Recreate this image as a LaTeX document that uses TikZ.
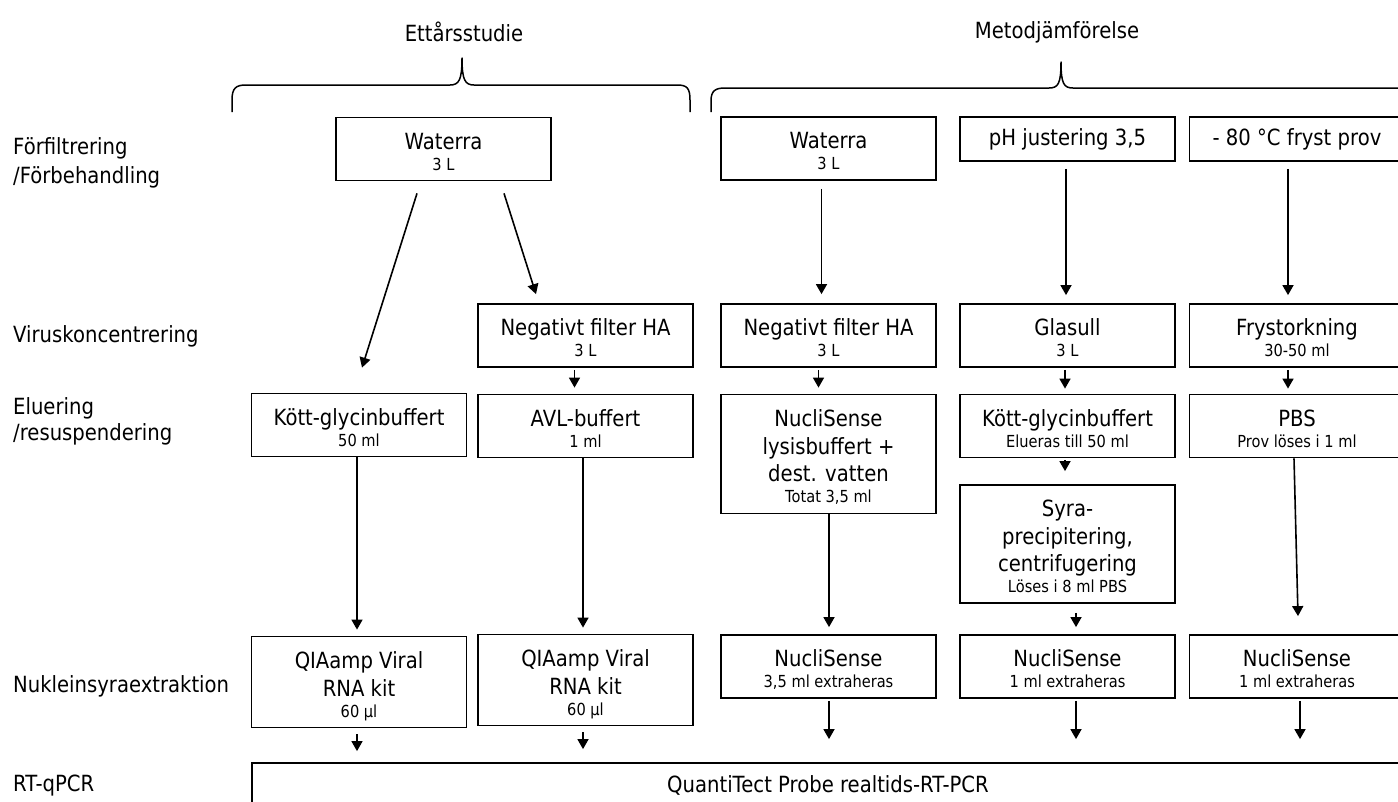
\documentclass[tikz,border=0pt]{standalone}
\usepackage{fontspec}
\setmainfont{DejaVu Sans}[FakeStretch=0.88]
\usetikzlibrary{arrows.meta,calc}
\newcommand\mainsz{\fontsize{22.3}{27.5}\selectfont}
\newcommand\smallsz{\fontsize{16.6}{20}\selectfont}
\newcommand\hs{\rule{0pt}{26.5pt}}
\newcommand\ds{\rule[-5pt]{0pt}{5pt}}
\begin{document}
\begin{tikzpicture}[x=1pt,y=-1pt,
  box/.style={draw, line width=1.8pt, minimum width=215pt, inner sep=0pt, align=center, font=\mainsz},
  arr/.style={-{Triangle[length=10pt,width=11pt]}, line width=1.6pt},
  lab/.style={anchor=west, align=left, font=\mainsz, inner sep=0pt},
  brace/.style={line width=1.5pt, line join=round}]
\useasboundingbox (0,0) rectangle (1398,801);
\clip (0,0) rectangle (1398,801);

% headers
\node[font=\mainsz] (h1) at (464,32) {Ettårsstudie};
\node[font=\mainsz] (h2) at (1057,32) {Metodjämförelse};

% braces
\draw[brace] (232,112) -- (232,100) .. controls (232,88) and (236,85) .. (246,85) -- (450,85)
  .. controls (459,85) and (462,80) .. (462,58) .. controls (462,80) and (465,85) .. (474,85)
  -- (677,85) .. controls (687,85) and (690,88) .. (690,100) -- (690,112);
\draw[brace] (711,112) -- (711,101) .. controls (711,91) and (715,88) .. (725,88) -- (1049,88)
  .. controls (1058,88) and (1061,84) .. (1061,62) .. controls (1061,84) and (1064,88) .. (1073,88)
  -- (1420,88);

% left labels
\node[lab] (l1) at (13,163) {Förfiltrering\\[1.5pt]/Förbehandling};
\node[lab] (l2) at (13,336) {Viruskoncentrering};
\node[lab] (l3) at (13,421.5) {Eluering\\[-1.5pt]/resuspendering};
\node[lab] (l4) at (13,686) {Nukleinsyraextraktion};
\node[lab] (l5) at (13,786) {RT-qPCR};

% row 1
\node[box, minimum height=63pt] (W1) at (443.5,149) {\hs Waterra\\[-6.5pt]{\smallsz 3 L}\ds};
\node[box, minimum height=63pt] (W2) at (828.5,148.5) {\hs Waterra\\[-6.5pt]{\smallsz 3 L}\ds};
\node[box, minimum height=44pt] (PH) at (1067.5,139) {pH justering 3,5};
\node[box, minimum height=44pt] (F80) at (1297,139) {- 80 °C fryst prov};

% row 2
\node[box, minimum height=63pt] (N2) at (585.5,335.5) {\hs Negativt filter HA\\[-6.5pt]{\smallsz 3 L}\ds};
\node[box, minimum height=63pt] (N3) at (828.5,335.5) {\hs Negativt filter HA\\[-6.5pt]{\smallsz 3 L}\ds};
\node[box, minimum height=63pt] (G) at (1067.5,335.5) {\hs Glasull\\[-6.5pt]{\smallsz 3 L}\ds};
\node[box, minimum height=63pt] (FR) at (1297,335.5) {\hs Frystorkning\\[-6.5pt]{\smallsz 30-50 ml}\ds};

% row 3
\node[box, minimum height=63pt] (K1) at (359,425) {\hs Kött-glycinbuffert\\[-6.5pt]{\smallsz 50 ml}\ds};
\node[box, minimum height=63pt] (AVL) at (585.5,426) {\hs AVL-buffert\\[-6.5pt]{\smallsz 1 ml}\ds};
\node[box, minimum height=119pt] (L3) at (828.5,454) {\hs NucliSense\\lysisbuffert +\\dest. vatten\\[-6.5pt]{\smallsz Totat 3,5 ml}\ds};
\node[box, minimum height=63pt] (K4) at (1067.5,426) {\hs Kött-glycinbuffert\\[-6.5pt]{\smallsz Elueras till 50 ml}\ds};
\node[box, minimum height=63pt] (PBS) at (1297,426) {\hs PBS\\[-6.5pt]{\smallsz Prov löses i 1 ml}\ds};
\node[box, minimum height=118pt] (S4) at (1067.5,544) {\hs Syra-\\precipitering,\\centrifugering\\[-6.5pt]{\smallsz Löses i 8 ml PBS}\ds};

% row 4
\node[box, minimum height=91pt] (Q1) at (359,682) {\hs QIAamp Viral\\RNA kit\\[-6.5pt]{\smallsz 60 µl}\ds};
\node[box, minimum height=91pt] (Q2) at (585.5,680) {\hs QIAamp Viral\\RNA kit\\[-6.5pt]{\smallsz 60 µl}\ds};
\node[box, minimum height=63pt] (U3) at (828.5,666.5) {\hs NucliSense\\[-6.5pt]{\smallsz 3,5 ml extraheras}\ds};
\node[box, minimum height=63pt] (U4) at (1067.5,666.5) {\hs NucliSense\\[-6.5pt]{\smallsz 1 ml extraheras}\ds};
\node[box, minimum height=63pt] (U5) at (1297,666.5) {\hs NucliSense\\[-6.5pt]{\smallsz 1 ml extraheras}\ds};

% bottom
\node[box, minimum width=1152pt, minimum height=44pt] (pcr) at (828,785) {QuantiTect Probe realtids-RT-PCR};

% arrows
\draw[arr] ($(W1.south)+(-26.5,12)$) -- ($(K1.north)+(3,-25)$);
\draw[arr] ($(W1.south)+(60.5,12)$) -- ($(N2.north)+(-49.5,-9)$);
\draw[arr] ($(W2.south)+(-7,8)$) -- ($(N3.north)+(-7,-9)$);
\draw[arr] ($(PH.south)+(-1.5,7)$) -- ($(G.north)+(-1.5,-8)$);
\draw[arr] ($(F80.south)+(-9,7)$) -- ($(FR.north)+(-9,-8)$);
\draw[arr] ($(N2.south)+(-11,2)$) -- ($(AVL.north)+(-11,-6)$);
\draw[arr] ($(N3.south)+(-10,2)$) -- ($(L3.north)+(-10,-6)$);
\draw[arr] ($(G.south)+(-2.5,2)$) -- ($(K4.north)+(-2.5,-5)$);
\draw[arr] ($(FR.south)+(-9,2)$) -- ($(PBS.north)+(-9,-5)$);
\draw[arr] ($(K1.south)+(-2,0)$) -- ($(Q1.north)+(-2,-6)$);
\draw[arr] ($(AVL.south)+(-2.5,0)$) -- ($(Q2.north)+(-2.5,-6)$);
\draw[arr] ($(L3.south)+(0.5,0)$) -- ($(U3.north)+(0.5,-7)$);
\draw[arr] ($(K4.south)+(-2.5,2)$) -- ($(S4.north)+(-2.5,-13)$);
\draw[arr] ($(S4.south)+(8.5,9)$) -- ($(U4.north)+(8.5,-7)$);
\draw[arr] ($(PBS.south)+(-3,0)$) -- ($(U5.north)+(1,-18)$);
\draw[arr] ($(Q1.south)+(-2,6)$) -- ($(Q1.south |- pcr.north)+(-2,-11)$);
\draw[arr] ($(Q2.south)+(-2.5,6)$) -- ($(Q2.south |- pcr.north)+(-2.5,-13)$);
\draw[arr] ($(U3.south)+(0.5,2)$) -- ($(U3.south |- pcr.north)+(0.5,-23)$);
\draw[arr] ($(U4.south)+(8.5,2)$) -- ($(U4.south |- pcr.north)+(8.5,-23)$);
\draw[arr] ($(U5.south)+(3,2)$) -- ($(U5.south |- pcr.north)+(3,-23)$);
\end{tikzpicture}
\end{document}
